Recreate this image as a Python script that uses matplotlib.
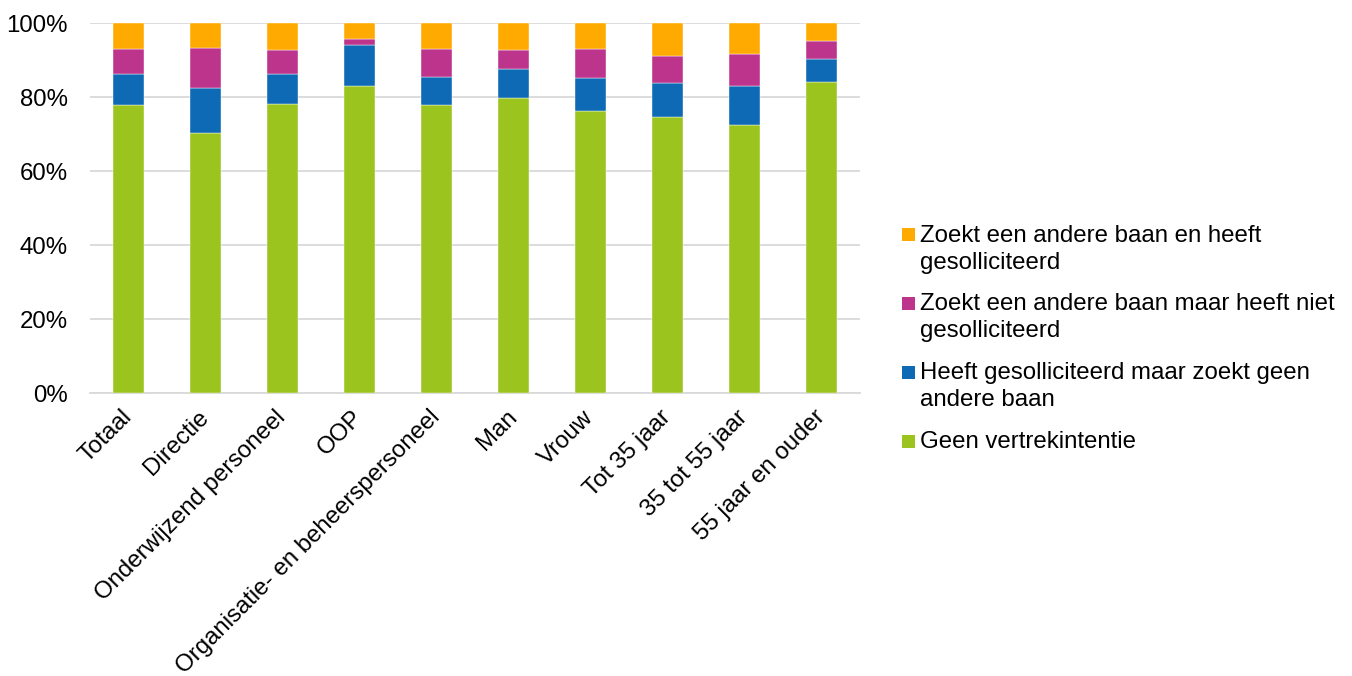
import matplotlib
matplotlib.use("Agg")
import matplotlib.pyplot as plt
from matplotlib.patches import Rectangle

plt.rcParams['font.family'] = ['Liberation Sans', 'DejaVu Sans']

categories = ["Totaal", "Directie", "Onderwijzend personeel", "OOP",
              "Organisatie- en beheerspersoneel", "Man", "Vrouw",
              "Tot 35 jaar", "35 tot 55 jaar", "55 jaar en ouder"]

geen = [77.8, 70.2, 78.0, 82.9, 77.8, 79.8, 76.1, 74.6, 72.4, 84.1]
gesoll_niet_zoekt = [8.3, 12.1, 8.1, 11.2, 7.5, 7.7, 9.1, 9.2, 10.5, 6.3]
zoekt_niet_gesoll = [6.9, 11.0, 6.7, 1.6, 7.7, 5.3, 7.9, 7.4, 8.6, 4.8]
zoekt_en_gesoll = [7.0, 6.7, 7.2, 4.3, 7.0, 7.2, 6.9, 8.8, 8.5, 4.8]

series = [
    ("Geen vertrekintentie", geen, "#9BC41F"),
    ("Heeft gesolliciteerd maar zoekt geen\nandere baan", gesoll_niet_zoekt, "#0E6AB4"),
    ("Zoekt een andere baan maar heeft niet\ngesolliciteerd", zoekt_niet_gesoll, "#BC348B"),
    ("Zoekt een andere baan en heeft\ngesolliciteerd", zoekt_en_gesoll, "#FFAA00"),
]

FS = 17.3
W, H = 1352, 676

fig = plt.figure(figsize=(W / 100, H / 100), dpi=100)
ax = fig.add_axes([90 / W, 1 - 393 / H, 770 / W, 370 / H])

x = list(range(len(categories)))
bottom = [0.0] * len(categories)
for name, vals, color in series:
    ax.bar(x, vals, width=0.4, bottom=bottom, color=color,
           edgecolor="white", linewidth=0.3, zorder=3)
    bottom = [b + v for b, v in zip(bottom, vals)]

ax.set_xlim(-0.5, len(categories) - 0.5)
ax.set_ylim(0, 100)
ax.set_yticks([0, 20, 40, 60, 80, 100])
ax.set_yticklabels([f"{v}%" for v in [0, 20, 40, 60, 80, 100]], fontsize=FS)
ax.set_xticks(x)
ax.set_xticklabels(categories, rotation=45, ha="right", va="center",
                   rotation_mode="anchor", fontsize=FS)
ax.tick_params(axis="both", length=0, colors="#000000")
ax.tick_params(axis="y", pad=16)
ax.tick_params(axis="x", pad=15)
ax.grid(axis="y", color="#D9D9D9", linewidth=1.3, zorder=0)
for s in ["top", "right", "left"]:
    ax.spines[s].set_visible(False)
ax.spines["bottom"].set_color("#D9D9D9")
ax.spines["bottom"].set_linewidth(1.3)

# legend: square aligned with the first line of each entry
baselines = [241.5, 310.5, 379.5, 448.5]
line_gap = 27
for (name, _, color), yb in zip(reversed(series), baselines):
    fig.add_artist(Rectangle((902 / W, 1 - (yb - 0.5) / H), 12.7 / W, 12.7 / H,
                             transform=fig.transFigure, facecolor=color,
                             edgecolor="none"))
    for i, line in enumerate(name.split("\n")):
        fig.text(920 / W, 1 - (yb + i * line_gap) / H, line, fontsize=FS,
                 ha="left", va="baseline")

fig.savefig("out.png", dpi=100)
